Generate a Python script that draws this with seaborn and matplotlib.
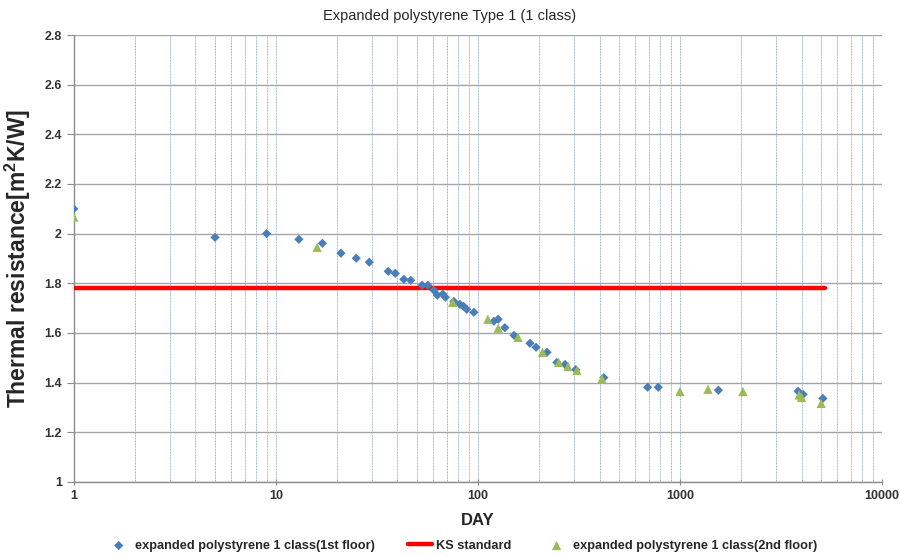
import numpy as np
import pandas as pd
import matplotlib
matplotlib.use("Agg")
import matplotlib.pyplot as plt
import seaborn as sns
from matplotlib.ticker import LogLocator, FixedLocator, NullFormatter, FuncFormatter

# Data
day_1st = [1, 5, 9, 13, 17, 21, 25, 29, 36, 39, 43, 46.5, 53, 56.5, 60.5, 63, 67, 69,
           76, 81.5, 85, 88, 95.5, 120, 126, 136, 151, 181, 194, 220, 246, 270, 305,
           420, 692, 781, 1550, 3840, 4070, 5100]
r_1st = [2.10, 1.985, 2.00, 1.977, 1.961, 1.921, 1.901, 1.885, 1.848, 1.84, 1.816, 1.812,
         1.792, 1.792, 1.772, 1.752, 1.756, 1.744, 1.727, 1.715, 1.707, 1.695, 1.683,
         1.647, 1.655, 1.621, 1.59, 1.558, 1.542, 1.522, 1.481, 1.473, 1.452,
         1.42, 1.381, 1.381, 1.369, 1.365, 1.352, 1.336]

day_2nd = [1, 16, 75, 112, 126, 158, 209, 251, 279, 309, 411, 1000, 1376, 2050, 3890, 4000, 5000]
r_2nd = [2.067, 1.945, 1.723, 1.655, 1.619, 1.582, 1.522, 1.481, 1.465, 1.449, 1.415,
         1.364, 1.373, 1.364, 1.35, 1.34, 1.316]

ks_day = [1, 5200]
ks_value = [1.78, 1.78]

title = "Expanded polystyrene Type 1 (1 class)"
labels = ["expanded polystyrene 1 class(1st floor)", "KS standard",
          "expanded polystyrene 1 class(2nd floor)"]

sns.set_style("white")
plt.rcParams['font.family'] = ['Liberation Sans', 'DejaVu Sans']
plt.rcParams['mathtext.fontset'] = 'custom'
plt.rcParams['mathtext.rm'] = 'Liberation Sans'
plt.rcParams['mathtext.bf'] = 'Liberation Sans:bold'

fig = plt.figure(figsize=(9, 5.57), dpi=100)
ax = fig.add_axes([0.082, 0.135, 0.898, 0.802])

df1 = pd.DataFrame({"day": day_1st, "r": r_1st})
df2 = pd.DataFrame({"day": day_2nd, "r": r_2nd})
dk = pd.DataFrame({"day": ks_day, "r": ks_value})

sns.lineplot(data=dk, x="day", y="r", ax=ax, color="#ff0000", linewidth=3.2,
             label=labels[1], zorder=3)
sns.scatterplot(data=df1, x="day", y="r", ax=ax, marker="D", s=22, color="#4a7ebb",
                edgecolor="none", label=labels[0], zorder=4)
sns.scatterplot(data=df2, x="day", y="r", ax=ax, marker="^", s=45, color="#9bbb59",
                edgecolor="none", label=labels[2], zorder=5)

ax.set_xscale("log")
ax.set_xlim(1, 10000)
ax.set_ylim(1, 2.8)
ax.yaxis.set_major_locator(FixedLocator(np.round(np.arange(1.0, 2.81, 0.2), 1)))
ax.yaxis.set_major_formatter(FuncFormatter(lambda v, p: ("%g" % round(v, 1))))
ax.xaxis.set_major_locator(FixedLocator([1, 10, 100, 1000, 10000]))
ax.xaxis.set_major_formatter(FuncFormatter(lambda v, p: "%d" % v))
ax.xaxis.set_minor_locator(LogLocator(base=10, subs=np.arange(2, 10)))
ax.xaxis.set_minor_formatter(NullFormatter())

ax.grid(False)
ax.yaxis.grid(True, color="#a6a6a6", linewidth=1.0, zorder=0)
ax.xaxis.grid(True, which="both", color="#9db3d0", linewidth=0.7, linestyle=(0, (1, 0.6)), zorder=0)
ax.set_axisbelow(True)

for s in ["top", "right"]:
    ax.spines[s].set_visible(False)
for s in ["left", "bottom"]:
    ax.spines[s].set_color("#8c8c8c")
    ax.spines[s].set_linewidth(1.0)

ax.tick_params(axis="y", which="major", length=5, direction="out", color="#8c8c8c",
               labelsize=9, left=True)
ax.tick_params(axis="x", which="major", length=5, direction="inout", color="#8c8c8c",
               labelsize=9, bottom=True)
ax.tick_params(axis="x", which="minor", length=0)
for t in ax.get_yticklabels() + ax.get_xticklabels():
    t.set_fontweight("bold")
    t.set_color("#333333")

ax.set_xlabel("DAY", fontsize=12, fontweight="bold", labelpad=8)
ax.set_ylabel("Thermal resistance[m$^\\mathbf{2}$K/W]", fontsize=16.5, fontweight="bold", labelpad=8)
fig.text(0.5, 0.972, title, ha="center", va="center", fontsize=10.5)

handles, labs = ax.get_legend_handles_labels()
order = [labs.index(l) for l in labels]
ax.legend([handles[i] for i in order], [labs[i] for i in order],
          loc="center", bbox_to_anchor=(0.513, 0.02), bbox_transform=fig.transFigure,
          ncol=3, frameon=False, handlelength=1.9, columnspacing=2.6,
          handletextpad=0.3, prop={"weight": "bold", "size": 9.2})

fig.savefig("out.png", dpi=100)
